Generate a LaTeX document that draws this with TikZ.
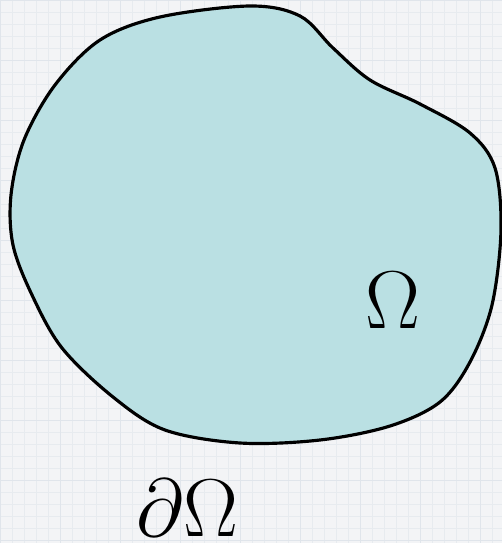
\documentclass[tikz,border=0pt]{standalone}
\usepackage{amsmath,amssymb}
\usepackage{tikz}
\usetikzlibrary{positioning}
\usepackage{xcolor}
\definecolor{paper}{RGB}{243,244,246}
\definecolor{gridline}{RGB}{231,235,239}
\definecolor{gridmajor}{RGB}{224,229,235}
\definecolor{domain}{RGB}{186,224,227}

\begin{document}
\begin{tikzpicture}[x=0.02cm,y=-0.02cm,
    label/.style={inner sep=0pt,font=\Huge,scale=1.88}]
      \useasboundingbox (0,0) rectangle (502,543);
      \fill[paper] (0,0) rectangle (502,543);
      \draw[step=0.24cm,gridline,very thin] (0,0) grid (502,543);
      \draw[step=1.2cm,gridmajor,thin] (0,0) grid (502,543);
      % domain
      \draw[line width=1.8pt,fill=domain] plot[smooth cycle,tension=0.55] coordinates {
        (250,6) (300,16) (333,48) (370,80) (420,104) (470,133) (495,168)
        (501,230) (492,305) (470,362) (440,402) (390,426) (320,440)
        (240,443) (165,430) (113,397) (62,348) (32,295) (13,245) (11,195)
        (24,140) (55,85) (100,40) (160,17)};
      \node[label] (omega) at (393,300) {$\Omega$};
      \node[label] (bdry) at (187,508) {$\partial\Omega$};
    \end{tikzpicture}
\end{document}
